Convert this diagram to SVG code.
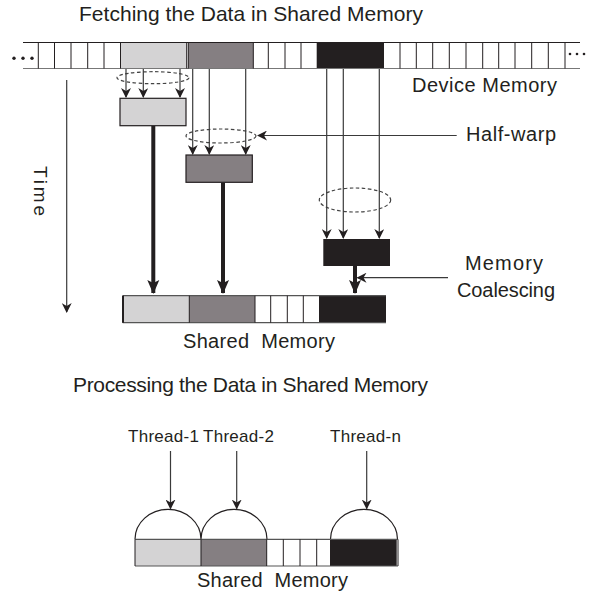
<svg xmlns="http://www.w3.org/2000/svg" width="591" height="596" viewBox="0 0 591 596">
<defs>
<style>
text{font-family:"Liberation Sans",Arial,sans-serif;fill:#231f20}
.t19{font-size:21px}
.t18{font-size:20px}
.t14{font-size:17px}
.cell{stroke:#231f20;stroke-width:1;fill:none}
.lg{fill:#d4d3d4}
.dg{fill:#857f82}
.bk{fill:#231f20}
.thin{stroke:#3a3a3a;stroke-width:1.2;fill:none}
.thick{stroke:#231f20;stroke-width:4;fill:none}
.dash{stroke:#444;stroke-width:1.2;fill:none;stroke-dasharray:3.5,2.5}
</style>
<marker id="ah" markerWidth="10" markerHeight="10" refX="9" refY="5" orient="auto" markerUnits="userSpaceOnUse">
<path d="M0,0 L10,5 L0,10 L3,5 Z" fill="#231f20"/>
</marker>
<marker id="ahb" markerWidth="14" markerHeight="14" refX="13" refY="7" orient="auto" markerUnits="userSpaceOnUse">
<path d="M0,1 L14,7 L0,13 L3,7 Z" fill="#231f20"/>
</marker>
</defs>
<rect width="591" height="596" fill="#fff"/>

<text class="t19" x="251" y="21" text-anchor="middle" textLength="344">Fetching the Data in Shared Memory</text>

<g id="device-memory">
<rect class="lg" x="120.7" y="42.5" width="66" height="26"/>
<rect class="dg" x="188.3" y="42.5" width="65" height="26"/>
<rect class="bk" x="316.7" y="42.5" width="67.3" height="26"/>
<line class="cell" x1="23" y1="42.5" x2="580" y2="42.5"/>
<line x1="23" y1="68.5" x2="580" y2="68.5" stroke="#777" stroke-width="1.2"/>
<path class="cell" d="M38.3,42.5V68.5M54.5,42.5V68.5M71,42.5V68.5M87.7,42.5V68.5M104,42.5V68.5M120.5,42.5V68.5M186.7,42.5V68.5M188.3,42.5V68.5M253.3,42.5V68.5M268.3,42.5V68.5M285,42.5V68.5M301,42.5V68.5M400,42.5V68.5M416.3,42.5V68.5M432.7,42.5V68.5M449.3,42.5V68.5M466,42.5V68.5M482.7,42.5V68.5M498.7,42.5V68.5M515,42.5V68.5M531.7,42.5V68.5M548.3,42.5V68.5M565,42.5V68.5"/>
<circle cx="14" cy="58.3" r="1.7" fill="#231f20"/>
<circle cx="23" cy="58.3" r="1.7" fill="#231f20"/>
<circle cx="32" cy="58.3" r="1.7" fill="#231f20"/>
<circle cx="570" cy="54" r="1.3" fill="#231f20"/>
<circle cx="577" cy="54" r="1.3" fill="#231f20"/>
<circle cx="584" cy="54" r="1.3" fill="#231f20"/>
<text class="t18" x="412" y="92" textLength="145">Device Memory</text>
</g>

<g id="time">
<line class="thin" x1="66.7" y1="80" x2="66.7" y2="312" marker-end="url(#ah)"/>
<text transform="translate(34,191) rotate(90)" text-anchor="middle" font-size="19" textLength="50">Time</text>
</g>

<g id="warp-1">
<rect class="lg" x="120" y="98.3" width="66" height="27.4" stroke="#231f20" stroke-width="1.2"/>
<ellipse class="dash" cx="153" cy="77.7" rx="36" ry="6"/>
</g>
<g id="warp-2">
<rect class="dg" x="186" y="155" width="66.3" height="27.3" stroke="#231f20" stroke-width="1.2"/>
<ellipse class="dash" cx="221" cy="136" rx="35" ry="7"/>
</g>
<g id="warp-n">
<rect class="bk" x="323.3" y="239" width="66.7" height="27"/>
<ellipse class="dash" cx="355" cy="200" rx="35.7" ry="12"/>
</g>

<g id="shared-memory-1">
<rect class="lg" x="122.7" y="295.7" width="66.6" height="27"/>
<rect class="dg" x="189.3" y="295.7" width="65.7" height="27"/>
<rect class="bk" x="319" y="295.7" width="67" height="27"/>
<path d="M122.7,295.7H386M122.7,322.7H386" stroke="#555" stroke-width="1.2" fill="none"/>
<path class="cell" d="M123,295.7V322.7M189.3,295.7V322.7M255,295.7V322.7M270.7,295.7V322.7M287.3,295.7V322.7M303.3,295.7V322.7"/>
<line x1="123" y1="295.7" x2="123" y2="322.7" stroke="#231f20" stroke-width="2"/>
<text class="t18" x="183" y="348" textLength="152" style="white-space:pre">Shared  Memory</text>
</g>

<g id="labels">
<text class="t18" x="466" y="141" textLength="90">Half-warp</text>
<text class="t18" x="465" y="270" textLength="78">Memory</text>
<text class="t18" x="457" y="297" textLength="98">Coalescing</text>
</g>

<g id="connectors">
<path class="thin" d="M126,69V97" marker-end="url(#ah)"/>
<path class="thin" d="M143.3,69V97" marker-end="url(#ah)"/>
<path class="thin" d="M180,69V97" marker-end="url(#ah)"/>
<path class="thin" d="M192.7,69V154" marker-end="url(#ah)"/>
<path class="thin" d="M209.3,69V154" marker-end="url(#ah)"/>
<path class="thin" d="M245.7,69V154" marker-end="url(#ah)"/>
<path class="thin" d="M326.7,69V238" marker-end="url(#ah)"/>
<path class="thin" d="M343.3,69V238" marker-end="url(#ah)"/>
<path class="thin" d="M379.3,69V238" marker-end="url(#ah)"/>
<path class="thick" d="M153.3,126V293" marker-end="url(#ahb)"/>
<path class="thick" d="M223,182.5V293" marker-end="url(#ahb)"/>
<path class="thick" d="M355,266V293" marker-end="url(#ahb)"/>
<path class="thin" d="M456.7,135.5H258" marker-end="url(#ah)"/>
<path class="thin" d="M448,277.7H357.5" marker-end="url(#ah)"/>
<path class="thin" d="M170.5,451V508.5" marker-end="url(#ah)"/>
<path class="thin" d="M236.7,451V508.5" marker-end="url(#ah)"/>
<path class="thin" d="M366.7,451V508.5" marker-end="url(#ah)"/>
</g>

<text class="t19" x="250.5" y="392" text-anchor="middle" textLength="355">Processing the Data in Shared Memory</text>

<g id="threads">
<text class="t14" x="163.5" y="442" text-anchor="middle" textLength="71">Thread-1</text>
<text class="t14" x="238.5" y="442" text-anchor="middle" textLength="71">Thread-2</text>
<text class="t14" x="365.5" y="442" text-anchor="middle" textLength="71">Thread-n</text>
</g>

<g id="shared-memory-2">
<path d="M135,539.3A33,30 0 0 1 201,539.3M201,539.3A33,30 0 0 1 267,539.3M330.5,539.3A33.5,30 0 0 1 397.5,539.3" stroke="#231f20" stroke-width="1.2" fill="none"/>
<rect class="lg" x="135" y="539.3" width="66" height="26.7"/>
<rect class="dg" x="201" y="539.3" width="65.7" height="26.7"/>
<rect class="bk" x="330" y="539.3" width="66.7" height="26.7"/>
<path d="M135,539.3H398M135,566H398" stroke="#555" stroke-width="1.2" fill="none"/>
<path class="cell" d="M135,539.3V566M201,539.3V566M266.7,539.3V566M283.3,539.3V566M300,539.3V566M316.7,539.3V566M398,539.3V566"/>
<text class="t18" x="197" y="587" textLength="151" style="white-space:pre">Shared  Memory</text>
</g>
</svg>
